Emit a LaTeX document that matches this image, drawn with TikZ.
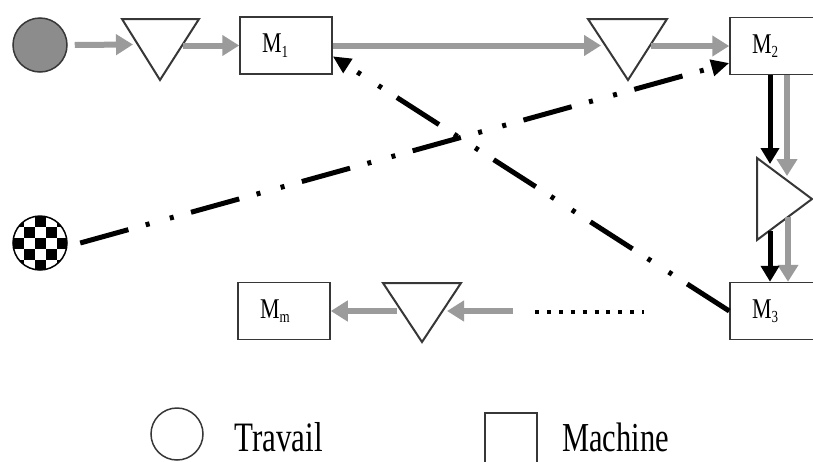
\documentclass[tikz,border=0pt]{standalone}
\usepackage{fontspec}
\setmainfont{Liberation Serif}
\usepackage{graphicx}
\usetikzlibrary{arrows.meta}
\definecolor{arrgray}{RGB}{155,155,155}
\definecolor{fillgray}{RGB}{140,140,140}
\definecolor{edgegray}{RGB}{55,55,55}
\newcommand\mlabel[1]{\scalebox{1}[1.3]{\fontsize{22}{24}\selectfont M\raisebox{-3.5pt}{\fontsize{13}{14}\selectfont #1}}}
\newcommand\legtext[2]{\scalebox{1}[1.35]{\fontsize{#1}{#1}\selectfont #2}}
\begin{document}
\begin{tikzpicture}[x=1pt,y=-1pt,
  box/.style={draw=edgegray, line width=1.5pt, fill=white, minimum width=92pt, minimum height=57pt,
    inner xsep=22pt, inner ysep=0pt, text width=48pt, align=left},
  tri/.style={draw=edgegray, line width=2pt, fill=white, line join=miter},
  garrow/.style={draw=arrgray, line width=6pt, -{Triangle[length=17pt,width=20pt]}},
  barrow/.style={draw=black, line width=5pt, -{Triangle[length=16pt,width=18pt]}},
  ddarrow/.style={draw=black, line width=5pt, dash pattern=on 50pt off 18pt on 4pt off 21pt on 4pt off 18pt,
    -{Triangle[length=18pt,width=16pt]}},
  dotline/.style={draw=black, line width=4pt, dash pattern=on 4pt off 7.9pt},
  jobnode/.style={circle, draw=edgegray, line width=1.5pt, minimum size=54pt, inner sep=0pt},
  legtxt/.style={anchor=base west, inner sep=0pt}
]
\useasboundingbox (0,0) rectangle (813,461);

% jobs
\node[jobnode, fill=fillgray] (J1) at (40,45) {};
\node[circle, minimum size=54pt, inner sep=0pt] (J2) at (40,243) {};
\begin{scope}
  \clip (J2.center) circle (27pt);
  \foreach \i in {-3,...,3}{
    \foreach \j in {-3,...,3}{
      \pgfmathtruncatemacro\pp{mod(\i+\j+10,2)}
      \ifnum\pp=0
        \fill[black] ({40+11*\i-5.5},{243+11*\j-5.5}) rectangle ++(11,11);
      \fi
    }
  }
\end{scope}
\draw[black, line width=1.5pt] (J2.center) circle (27pt);

% machines
\node[box] (M1) at (286,45.5) {\mlabel{1}};
\node[box] (M2) at (776,46) {\mlabel{2}};
\node[box] (M3) at (776,311) {\mlabel{3}};
\node[box] (Mm) at (284,311) {\mlabel{m}};

% buffers (triangles)
\draw[tri] (122,19) -- (199,19) -- (160,80) -- cycle;
\draw[tri] (588,19) -- (667,19) -- (628,80) -- cycle;
\draw[tri] (757,158) -- (757,240) -- (812,199) -- cycle;
\draw[tri] (383,283) -- (461,283) -- (422,342) -- cycle;

\coordinate (t1in) at (133,44.5);
\coordinate (t1out) at (183,45.5);
\coordinate (t2in) at (601,45.5);
\coordinate (t2out) at (651,46);
\coordinate (t3inB) at (770,164);
\coordinate (t3inG) at (787,176);
\coordinate (t3outB) at (770,231);
\coordinate (t3outG) at (788,217);
\coordinate (t4in) at (447,311);
\coordinate (t4out) at (397,311);
\coordinate (dfrom) at (513,311);
\coordinate (dot1) at (535,312);
\coordinate (dot2) at (644,312);

% gray flow
\draw[garrow] ([xshift=7pt]J1.east) -- (t1in);
\draw[garrow] (t1out) -- (M1.west);
\draw[garrow] (M1.east) -- (t2in);
\draw[garrow] (t2out) -- (M2.west);
\draw[garrow] ([xshift=11pt]M2.south) -- (t3inG);
\draw[garrow] (t3outG) -- ([xshift=12pt]M3.north);
\draw[dotline] (dot1) -- (dot2);
\draw[garrow] (dfrom) -- (t4in);
\draw[garrow] (t4out) -- (Mm.east);

% black flow
\draw[barrow] ([xshift=-6pt]M2.south) -- (t3inB);
\draw[barrow] (t3outB) -- ([xshift=-6pt]M3.north);
\draw[ddarrow] ([xshift=13pt]J2.east) -- (M2.-160);
\draw[ddarrow] (M3.west) -- (M1.-13);

% legend
\node[jobnode, minimum size=52pt] (LJ) at (177,434) {};
\node[legtxt] (LJt) at (234,451) {\legtext{31}{Travail}};
\node[draw=edgegray, line width=1.5pt, minimum width=52pt, minimum height=60pt, inner sep=0pt] (LM) at (511,443) {};
\node[legtxt] (LMt) at (562,451) {\legtext{30.5}{Machine}};
\end{tikzpicture}
\end{document}
